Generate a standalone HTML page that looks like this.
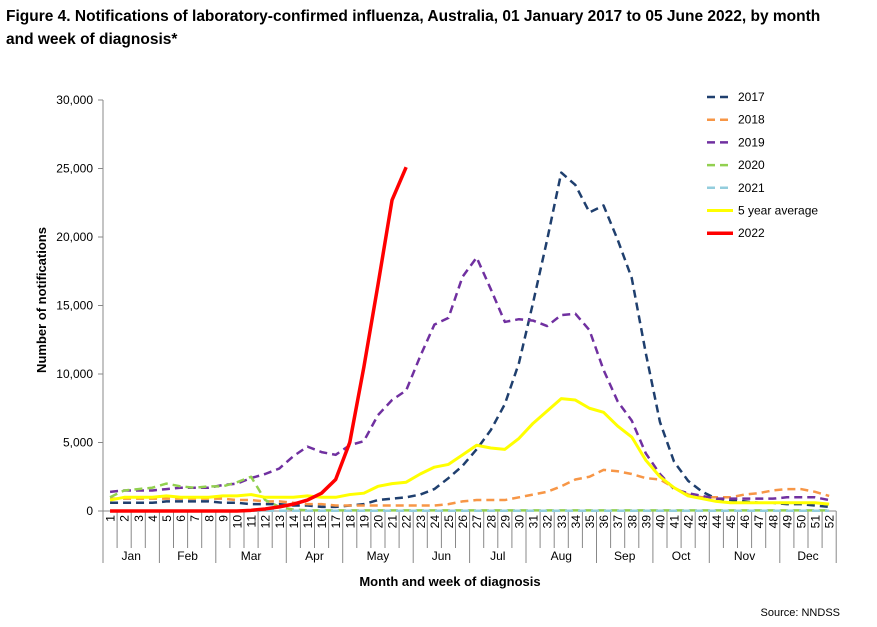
<!DOCTYPE html>
<html><head><meta charset="utf-8"><style>
body{margin:0;background:#fff;font-family:"Liberation Sans",Arial,sans-serif}
svg text{font-family:"Liberation Sans",Arial,sans-serif}
</style></head><body>
<svg width="877" height="622">
<text x="6" y="21" font-size="15.5" font-weight="bold">Figure 4. Notifications of laboratory-confirmed influenza, Australia, 01 January 2017 to 05 June 2022, by month</text>
<text x="6" y="44" font-size="15.5" font-weight="bold">and week of diagnosis*</text>
<g id="axes"></g>
<g id="series"></g>
<g id="legend"></g>
<text transform="translate(46,300) rotate(-90)" text-anchor="middle" font-size="13" font-weight="bold">Number of notifications</text>
<text x="450" y="586" text-anchor="middle" font-size="13" font-weight="bold">Month and week of diagnosis</text>
<text x="840" y="616" text-anchor="end" font-size="11">Source: NNDSS</text>
</svg>
<script>
const yTicks=[0,5000,10000,15000,20000,25000,30000];
const months=["Jan","Feb","Mar","Apr","May","Jun","Jul","Aug","Sep","Oct","Nov","Dec"];
const monthWeeks=[4,4,5,4,5,4,4,5,4,4,5,4];
const s2017=[0.6,0.6,0.6,0.6,0.7,0.7,0.7,0.7,0.6,0.6,0.5,0.5,0.5,0.4,0.4,0.3,0.3,0.4,0.5,0.8,0.9,1.0,1.2,1.6,2.4,3.3,4.5,5.9,7.8,10.8,15.2,19.8,24.7,23.8,21.8,22.3,19.8,17.0,11.5,6.5,3.6,2.2,1.4,0.9,0.8,0.7,0.6,0.6,0.5,0.5,0.4,0.3];
const s2018=[0.9,0.9,0.9,0.9,0.9,0.9,0.9,0.9,0.9,0.8,0.8,0.7,0.7,0.6,0.5,0.5,0.4,0.4,0.4,0.4,0.4,0.4,0.4,0.4,0.5,0.7,0.8,0.8,0.8,1.0,1.2,1.4,1.8,2.3,2.5,3.0,2.9,2.7,2.4,2.3,1.7,1.2,1.0,1.0,1.0,1.2,1.3,1.5,1.6,1.6,1.4,1.1];
const s2019=[1.4,1.5,1.5,1.5,1.6,1.7,1.7,1.7,1.9,2.0,2.4,2.7,3.1,4.0,4.7,4.3,4.1,4.8,5.1,7.0,8.1,8.8,11.3,13.6,14.1,17.1,18.5,16.2,13.8,14.0,13.9,13.5,14.3,14.4,13.2,10.3,8.0,6.6,4.2,2.7,1.6,1.3,1.1,0.9,0.9,0.9,0.9,0.9,1.0,1.0,1.0,0.8];
const s2020=[1.0,1.5,1.6,1.7,2.0,1.8,1.7,1.8,1.8,2.1,2.5,0.8,0.3,0.1,0.05,0.05,0.05,0.05,0.05,0.05,0.05,0.05,0.05,0.05,0.05,0.05,0.05,0.05,0.05,0.05,0.05,0.05,0.05,0.05,0.05,0.05,0.05,0.05,0.05,0.05,0.05,0.05,0.05,0.05,0.05,0.05,0.05,0.05,0.05,0.05,0.05,0.05];
const s2021=[0.02,0.02,0.02,0.02,0.02,0.02,0.02,0.02,0.02,0.02,0.02,0.02,0.02,0.02,0.02,0.02,0.02,0.02,0.02,0.02,0.02,0.02,0.02,0.02,0.02,0.02,0.02,0.02,0.02,0.02,0.02,0.02,0.02,0.02,0.02,0.02,0.02,0.02,0.02,0.02,0.02,0.02,0.02,0.02,0.02,0.02,0.02,0.02,0.02,0.02,0.02,0.02];
const sAvg=[0.8,1.0,1.0,1.0,1.1,1.0,1.0,1.0,1.1,1.1,1.2,1.0,1.0,1.0,1.1,1.0,1.0,1.2,1.3,1.8,2.0,2.1,2.7,3.2,3.4,4.1,4.8,4.6,4.5,5.3,6.4,7.3,8.2,8.1,7.5,7.2,6.2,5.4,3.7,2.5,1.7,1.1,0.9,0.7,0.6,0.6,0.6,0.6,0.6,0.6,0.6,0.5];
const s2022=[0,0,0,0,0,0,0,0,0,0,0.05,0.15,0.3,0.5,0.8,1.3,2.3,5.0,10.5,16.5,22.7,25.1];
const seriesNames=["2017","2018","2019","2020","2021","5 year average","2022"];
const NS="http://www.w3.org/2000/svg";
const L=103,T=100,B=511,W=14.1;
const x=i=>L+(i+0.5)*W;
const y=v=>B-(v*1000)/30000*(B-T);
function el(tag,attrs,parent,txt){const e=document.createElementNS(NS,tag);for(const k in attrs)e.setAttribute(k,attrs[k]);if(txt!=null)e.textContent=txt;parent.appendChild(e);return e;}
const ax=document.getElementById('axes');
const R=L+52*W;
let e=el('line',{x1:L,y1:T,x2:L,y2:B,stroke:'#888'},ax);


yTicks.forEach(t=>{
  const yy=B-t/30000*(B-T);
  el('line',{x1:L-5,y1:yy,x2:L,y2:yy,stroke:'#888'},ax);
  const tx=el('text',{x:L-10,y:yy+4,'text-anchor':'end','font-size':12},ax,t.toLocaleString('en-US'));
  
  
});
e=el('line',{x1:L,y1:B,x2:R,y2:B,stroke:'#888'},ax);


for(let i=0;i<=52;i++){el('line',{x1:L+i*W,y1:B,x2:L+i*W,y2:548,stroke:'#888'},ax);}
for(let i=0;i<52;i++){
  const tx=el('text',{transform:`translate(${x(i)+4.5},515) rotate(-90)`,'text-anchor':'end','font-size':12},ax,String(i+1));
  
  
}
let acc=0;
months.forEach((m,k)=>{
  const x0=L+acc*W;acc+=monthWeeks[k];const x1=L+acc*W;
  el('line',{x1:x0,y1:548,x2:x0,y2:563,stroke:'#888'},ax);
  if(k==11)el('line',{x1:x1,y1:548,x2:x1,y2:563,stroke:'#888'},ax);
  const tx=el('text',{x:(x0+x1)/2,y:560,'text-anchor':'middle','font-size':12},ax,m);
  
  
});
const sg=document.getElementById('series');
const styles=[
 {d:s2017,c:'#1f3f6e',dash:'8,5',w:2.5},
 {d:s2018,c:'#f79646',dash:'8,5',w:2.5},
 {d:s2019,c:'#7030a0',dash:'8,5',w:2.5},
 {d:s2020,c:'#92d050',dash:'8,5',w:2.5},
 {d:s2021,c:'#93cddd',dash:'8,5',w:2.5},
 {d:sAvg,c:'#ffff00',dash:'',w:3},
 {d:s2022,c:'#ff0000',dash:'',w:3.5}];
styles.forEach((s,k)=>{
  const p=el('polyline',{points:s.d.map((v,i)=>x(i)+','+y(v)).join(' '),fill:'none',stroke:s.c,'stroke-width':s.w,'stroke-dasharray':s.dash,'stroke-linejoin':'round'},sg);
  
  
});
const lg=document.getElementById('legend');
styles.forEach((s,k)=>{
  const yy=97+k*22.7;
  const g=el('g',{},lg);
  
  
  el('line',{x1:707,y1:yy,x2:733,y2:yy,stroke:s.c,'stroke-width':s.w,'stroke-dasharray':s.dash?'8,5':''},g);
  el('text',{x:738,y:yy+4,'font-size':12},g,seriesNames[k]);
});
</script>
</body></html>
